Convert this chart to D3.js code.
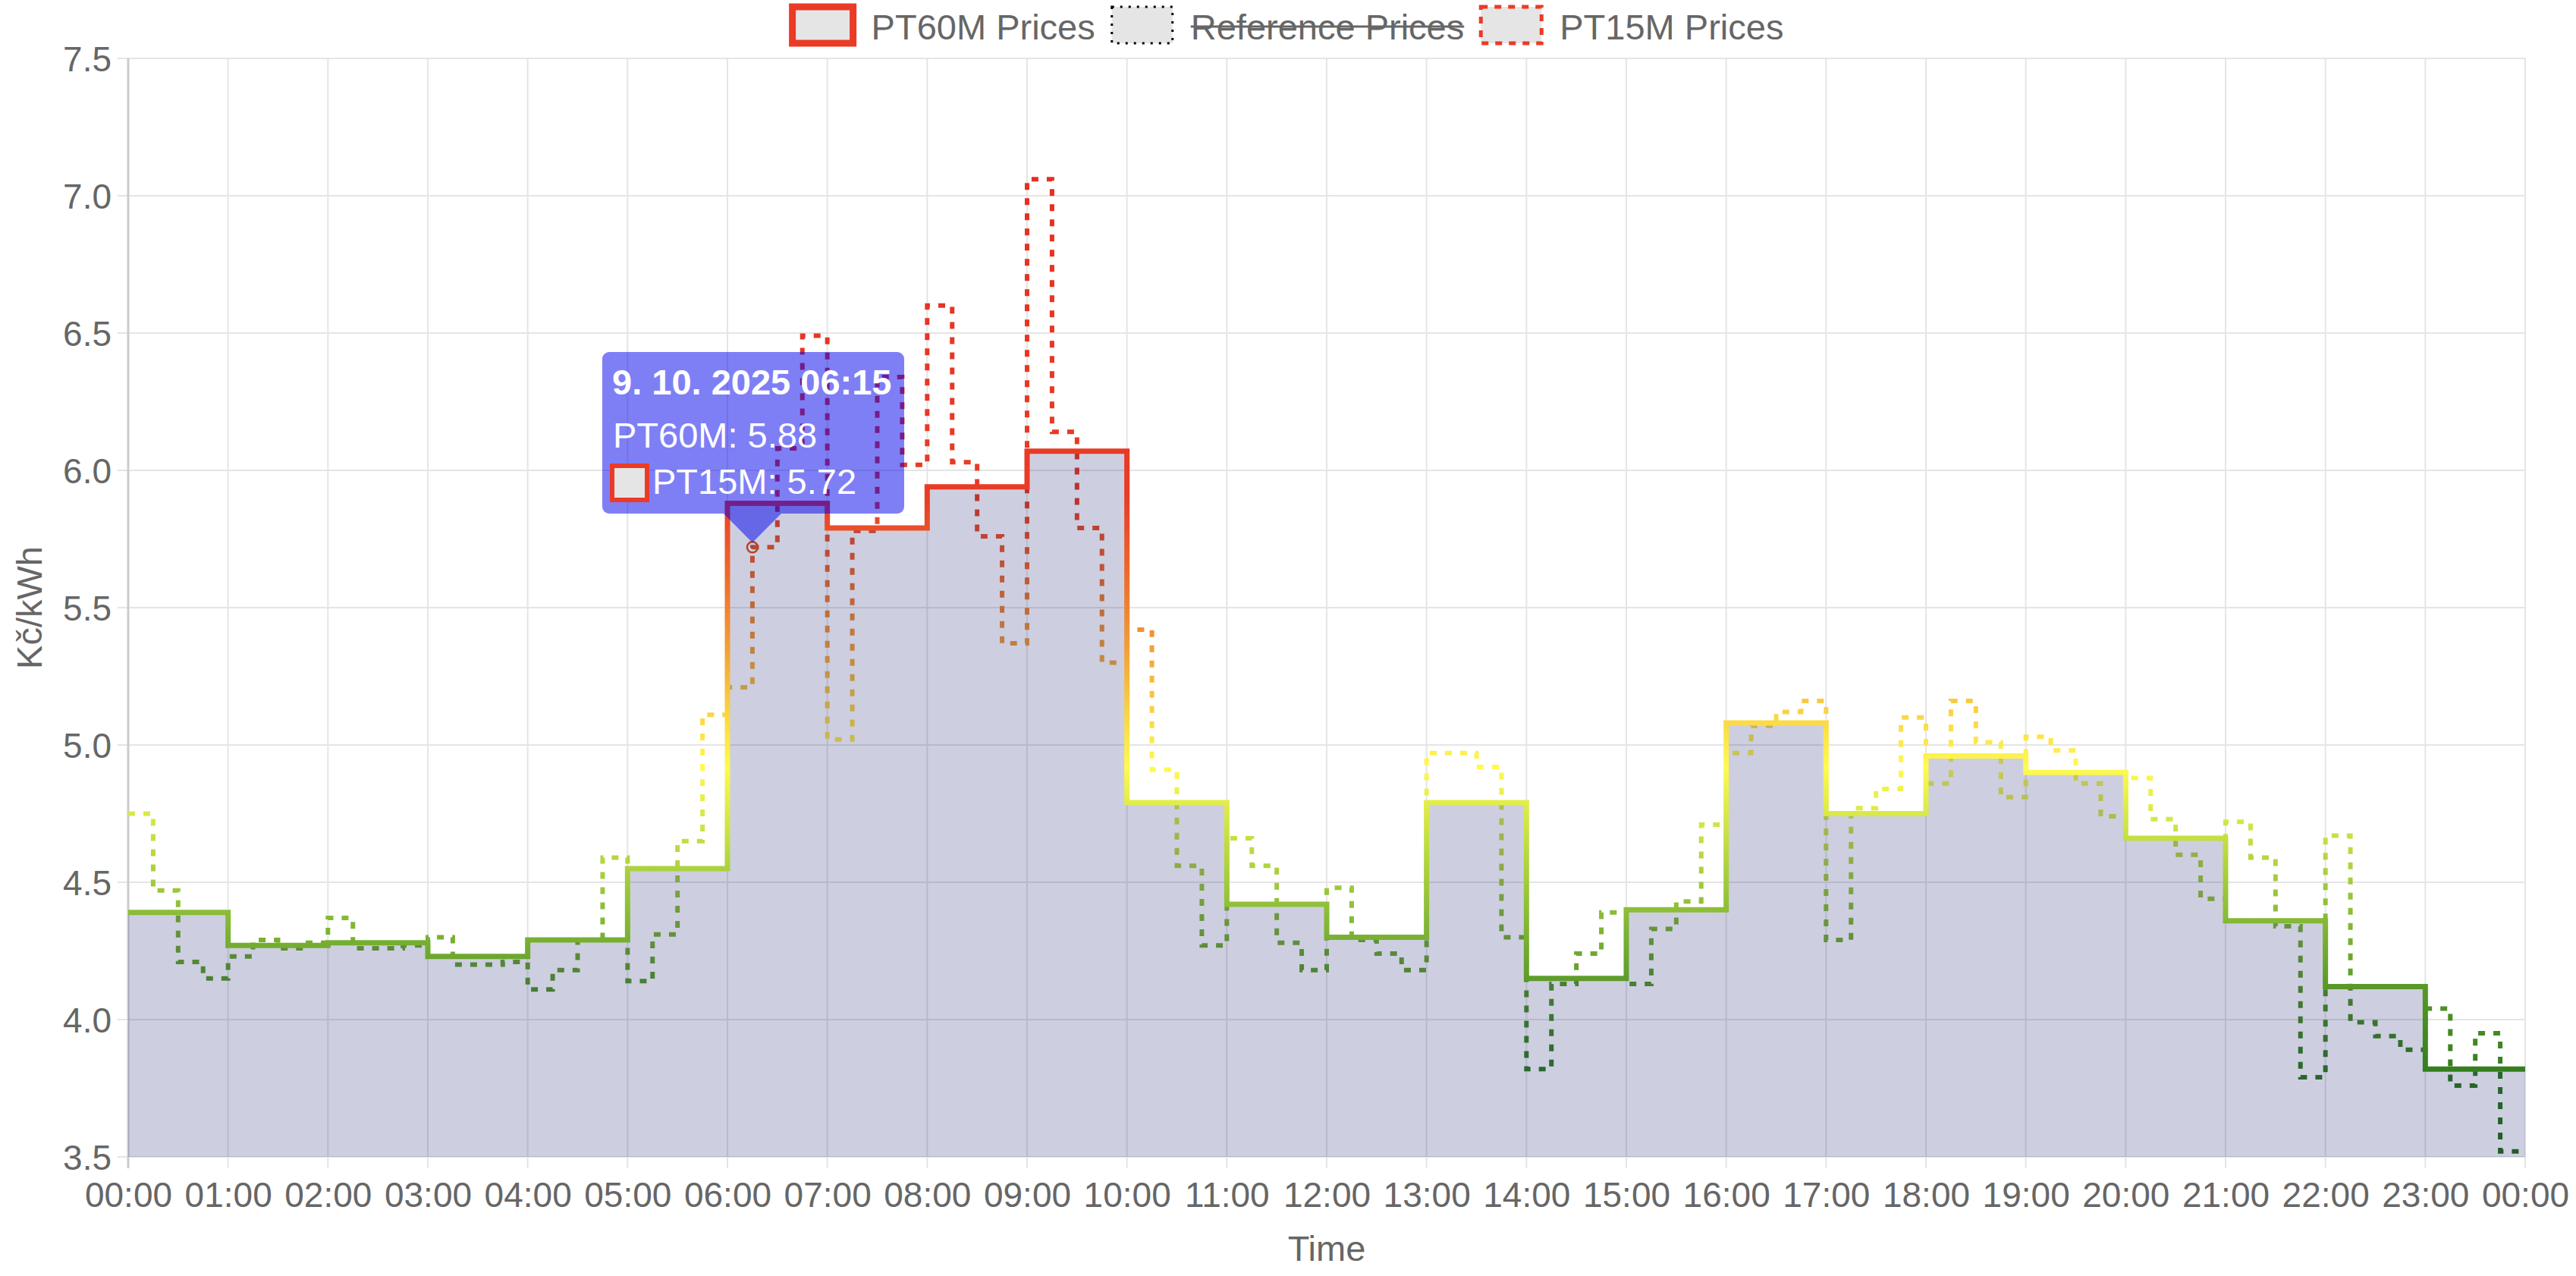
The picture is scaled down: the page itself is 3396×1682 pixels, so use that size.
<!DOCTYPE html>
<html>
<head>
<meta charset="utf-8">
<script src="https://cdn.jsdelivr.net/npm/d3@7"></script>
<style>
  html, body { margin: 0; padding: 0; background: #fff; }
  svg { display: block; }
  text { font-family: "Liberation Sans", Arial, Helvetica, sans-serif; }
</style>
</head>
<body>
<svg id="chart" width="3396" height="1682"></svg>
<script>
// ---------------- data ----------------
const hourLabels = ["00:00","01:00","02:00","03:00","04:00","05:00","06:00","07:00","08:00","09:00","10:00","11:00",
  "12:00","13:00","14:00","15:00","16:00","17:00","18:00","19:00","20:00","21:00","22:00","23:00","00:00"];
const yTicks = [3.5, 4.0, 4.5, 5.0, 5.5, 6.0, 6.5, 7.0, 7.5];
const pt60m = [4.39, 4.27, 4.28, 4.23, 4.29, 4.55, 5.88, 5.79, 5.94, 6.07, 4.79, 4.42,
  4.30, 4.79, 4.15, 4.40, 5.08, 4.75, 4.96, 4.90, 4.66, 4.36, 4.12, 3.82];
const pt15m = [
  4.75, 4.47, 4.21, 4.15,
  4.23, 4.29, 4.26, 4.28,
  4.37, 4.26, 4.26, 4.27,
  4.30, 4.20, 4.20, 4.21,
  4.11, 4.18, 4.29, 4.59,
  4.14, 4.31, 4.65, 5.11,
  5.21, 5.72, 6.08, 6.49,
  5.02, 5.78, 6.34, 6.02,
  6.60, 6.03, 5.76, 5.37,
  7.06, 6.14, 5.79, 5.30,
  5.42, 4.91, 4.56, 4.27,
  4.66, 4.56, 4.28, 4.18,
  4.48, 4.29, 4.24, 4.18,
  4.97, 4.97, 4.92, 4.30,
  3.82, 4.13, 4.24, 4.39,
  4.13, 4.33, 4.43, 4.71,
  4.97, 5.07, 5.12, 5.16,
  4.29, 4.77, 4.84, 5.10,
  4.86, 5.16, 5.01, 4.81,
  5.03, 4.98, 4.86, 4.74,
  4.88, 4.73, 4.60, 4.44,
  4.72, 4.59, 4.34, 3.79,
  4.67, 3.99, 3.94, 3.89,
  4.04, 3.76, 3.95, 3.52];
const legendLabels = ["PT60M Prices", "Reference Prices", "PT15M Prices"];
const legendHidden = [false, true, false];
const dateLabel = "9. 10. 2025";
const hoverIndex = 25; // 06:15 quarter-hour
const seriesNames = ["PT60M", "PT15M"];

// ---------------- style ----------------
const W = 3396, H = 1682;
const plot = { left: 169, right: 3329, top: 77, bottom: 1525 };
const textColor = "#666666";
const gridColor = "#e5e5e5";
const red = "#eb3a26";
const gradStops = [[3.5,"#2a6e1c"],[3.8,"#327d1e"],[4.1,"#559628"],[4.4,"#8cbe37"],[4.7,"#cde446"],
  [4.92,"#fffa50"],[5.1,"#fad746"],[5.35,"#f2a037"],[5.6,"#ed6e2d"],[5.9,"#e93c26"],[7.5,"#e42a1e"]];

const svg = d3.select("#chart");
const x = d3.scaleLinear().domain([0, 24]).range([plot.left, plot.right]);
const y = d3.scaleLinear().domain([3.5, 7.5]).range([plot.bottom, plot.top]);

// gradient by value
const defs = svg.append("defs");
const grad = defs.append("linearGradient").attr("id", "priceGrad")
  .attr("gradientUnits", "userSpaceOnUse")
  .attr("x1", 0).attr("x2", 0).attr("y1", y(3.5)).attr("y2", y(7.5));
gradStops.forEach(([v, c]) => grad.append("stop").attr("offset", (v - 3.5) / 4).attr("stop-color", c));

// grid
const grid = svg.append("g");
grid.selectAll("line.v").data(d3.range(25)).join("line")
  .attr("x1", d => x(d)).attr("x2", d => x(d))
  .attr("y1", plot.top).attr("y2", plot.bottom + 15)
  .attr("stroke", gridColor).attr("stroke-width", 2);
grid.selectAll("line.h").data(yTicks).join("line")
  .attr("x1", plot.left - 14).attr("x2", plot.right)
  .attr("y1", d => y(d)).attr("y2", d => y(d))
  .attr("stroke", gridColor).attr("stroke-width", 2);

// axes
const xAxis = d3.axisBottom(x).tickValues(d3.range(25)).tickFormat(i => hourLabels[i]).tickSize(0);
const gx = svg.append("g").attr("transform", `translate(0,${plot.bottom})`).call(xAxis);
gx.select(".domain").remove();
gx.selectAll("text").attr("y", 66).attr("dy", 0).attr("fill", textColor)
  .style("font-size", "46px");

const yAxis = d3.axisLeft(y).tickValues(yTicks).tickFormat(d => d.toFixed(1)).tickSize(0).tickPadding(22);
const gy = svg.append("g").attr("transform", `translate(${plot.left},0)`).call(yAxis);
gy.select(".domain").remove();
gy.selectAll("text").attr("fill", textColor).attr("dy", "0.35em").style("font-size", "46px");

// left axis border
svg.append("line").attr("x1", plot.left).attr("x2", plot.left)
  .attr("y1", plot.top).attr("y2", plot.bottom + 15)
  .attr("stroke", "#cccccc").attr("stroke-width", 3);

// axis titles
svg.append("text").attr("x", (plot.left + plot.right) / 2).attr("y", 1662)
  .attr("text-anchor", "middle").attr("fill", textColor).style("font-size", "47px").text("Time");
svg.append("text").attr("transform", `translate(55,${(plot.top + plot.bottom) / 2}) rotate(-90)`)
  .attr("text-anchor", "middle").attr("fill", textColor).style("font-size", "47px").text("Kč/kWh");

// series points
const pts15 = pt15m.map((v, i) => ({ t: i / 4, v }));
pts15.push({ t: 24, v: pt15m[pt15m.length - 1] });
const pts60 = pt60m.map((v, i) => ({ t: i, v }));
pts60.push({ t: 24, v: pt60m[pt60m.length - 1] });

const line = d3.line().x(d => x(d.t)).y(d => y(d.v)).curve(d3.curveStepAfter);
const area = d3.area().x(d => x(d.t)).y0(y(3.5)).y1(d => y(d.v)).curve(d3.curveStepAfter);

// PT15M dashed
svg.append("path").datum(pts15).attr("d", line)
  .attr("fill", "none").attr("stroke", "url(#priceGrad)").attr("stroke-width", 6)
  .attr("stroke-dasharray", "9,11");

// PT60M fill + line
svg.append("path").datum(pts60).attr("d", area).attr("fill", "rgba(5,15,100,0.2)");
svg.append("path").datum(pts60).attr("d", line)
  .attr("fill", "none").attr("stroke", "url(#priceGrad)").attr("stroke-width", 7)
  .attr("stroke-linejoin", "miter");

// hovered point
const hp = pts15[hoverIndex];
svg.append("circle").attr("cx", x(hp.t)).attr("cy", y(hp.v)).attr("r", 7)
  .attr("fill", "none").attr("stroke", "#b4452a").attr("stroke-width", 2.5);
svg.append("circle").attr("cx", x(hp.t)).attr("cy", y(hp.v)).attr("r", 2.5).attr("fill", "#b4452a");

// legend
const legend = svg.append("g");
const boxW = 80, boxH = 48, boxY = 9, gapBoxText = 24, gapItems = 22;
const tmp = legend.append("text").style("font-size", "47px");
const widths = legendLabels.map(l => { tmp.text(l); return tmp.node().getComputedTextLength(); });
tmp.remove();
const total = d3.sum(widths) + legendLabels.length * (boxW + gapBoxText) + gapItems * (legendLabels.length - 1);
let lx = W / 2 - total / 2;
legendLabels.forEach((lab, i) => {
  const g = legend.append("g");
  const r = g.append("rect").attr("x", lx).attr("y", boxY).attr("width", boxW).attr("height", boxH)
    .attr("fill", "#e5e5e5");
  if (i === 0) r.attr("stroke", red).attr("stroke-width", 9);
  if (i === 1) r.attr("stroke", "#000").attr("stroke-width", 3).attr("stroke-dasharray", "3,8");
  if (i === 2) r.attr("stroke", red).attr("stroke-width", 5).attr("stroke-dasharray", "9,9");
  const tx = lx + boxW + gapBoxText;
  g.append("text").attr("x", tx).attr("y", 52).attr("fill", textColor).style("font-size", "47px").text(lab);
  if (legendHidden[i]) {
    g.append("line").attr("x1", tx).attr("x2", tx + widths[i]).attr("y1", 35).attr("y2", 35)
      .attr("stroke", textColor).attr("stroke-width", 3);
  }
  lx = tx + widths[i] + gapItems;
});

// tooltip
const tip = svg.append("g");
const px = x(hp.t), py = y(hp.v);
const tipRect = { x: 794, y: 464, w: 398, h: 213 };
tip.append("rect").attr("x", tipRect.x).attr("y", tipRect.y).attr("width", tipRect.w).attr("height", tipRect.h)
  .attr("rx", 9).attr("fill", "rgba(0,0,235,0.5)");
tip.append("path").attr("d", `M${px - 38},${tipRect.y + tipRect.h} L${px},${py - 6} L${px + 38},${tipRect.y + tipRect.h} Z`)
  .attr("fill", "rgba(0,0,235,0.5)");
const hourIdx = Math.floor(hp.t);
const timeLabel = `${String(hourIdx).padStart(2, "0")}:${String(Math.round((hp.t - hourIdx) * 60)).padStart(2, "0")}`;
tip.append("text").attr("x", 807).attr("y", 520).attr("fill", "#fff").style("font-size", "47px")
  .style("font-weight", "bold").text(`${dateLabel} ${timeLabel}`);
tip.append("text").attr("x", 808).attr("y", 590).attr("fill", "#fff").style("font-size", "47px")
  .text(`${seriesNames[0]}: ${pt60m[hourIdx].toFixed(2)}`);
tip.append("rect").attr("x", 807).attr("y", 614).attr("width", 46).attr("height", 45)
  .attr("fill", "#e5e5e5").attr("stroke", red).attr("stroke-width", 6);
tip.append("text").attr("x", 860).attr("y", 651).attr("fill", "#fff").style("font-size", "47px")
  .text(`${seriesNames[1]}: ${hp.v.toFixed(2)}`);
</script>
</body>
</html>
